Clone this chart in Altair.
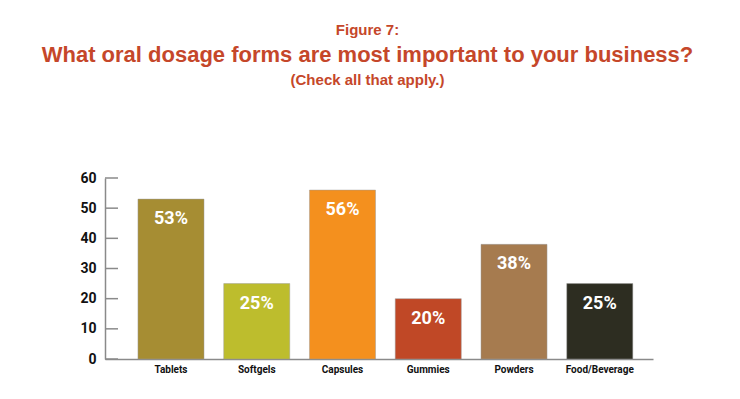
import altair as alt
import pandas as pd

categories = ["Tablets", "Softgels", "Capsules", "Gummies", "Powders", "Food/Beverage"]
values = [53, 25, 56, 20, 38, 25]
labels = ["53%", "25%", "56%", "20%", "38%", "25%"]
colors = ["#A68D33", "#BDBD2D", "#F4901E", "#C04826", "#A67B4F", "#2D2D21"]
y_ticks = [0, 10, 20, 30, 40, 50, 60]

fig_label = "Figure 7:"
title_text = "What oral dosage forms are most important to your business?"
subtitle_text = "(Check all that apply.)"
title_color = "#C5472A"

W, H = 548, 181

df = pd.DataFrame({"cat": categories, "val": values, "lab": labels})
ticks_df = pd.DataFrame({"v": y_ticks})

xscale = alt.Scale(domain=categories, paddingInner=0.23, paddingOuter=0.31, align=0.62)
yscale = alt.Scale(domain=[0, 60])

bars = alt.Chart(df).mark_bar(stroke="#999999", strokeWidth=0.8, strokeOpacity=0.6).encode(
    x=alt.X("cat:N", scale=xscale, sort=categories, title=None),
    y=alt.Y("val:Q", scale=yscale, title=None),
    color=alt.Color("cat:N", scale=alt.Scale(domain=categories, range=colors), legend=None),
)

text = alt.Chart(df).mark_text(color="white", font="Roboto", fontWeight="bold", fontSize=18,
                               baseline="alphabetic", dy=25).encode(
    x=alt.X("cat:N", scale=xscale, sort=categories, title=None),
    y=alt.Y("val:Q", scale=yscale, title=None),
    text="lab:N",
)

tick_rules = alt.Chart(ticks_df).mark_rule(color="#8a8a8a", strokeWidth=1.5).encode(
    y=alt.Y("v:Q", scale=yscale, title=None),
    x=alt.value(0),
    x2=alt.value(13),
)

def title_mark(t, size, ypos):
    return alt.Chart(pd.DataFrame({"t": [t]})).mark_text(
        font="Liberation Sans", fontWeight="bold", fontSize=size, color=title_color,
        align="center", baseline="alphabetic").encode(
        text="t:N", x=alt.value(262.5), y=alt.value(ypos))

chart = alt.layer(
    bars, text, tick_rules,
    title_mark(fig_label, 15, -143),
    title_mark(title_text, 22, -116),
    title_mark(subtitle_text, 15, -93),
).properties(
    width=W, height=H,
    autosize=alt.AutoSizeParams(type="none"),
    padding={"left": 97, "top": 170, "right": 79, "bottom": 30},
).configure(background="white").configure_view(strokeWidth=0).configure_axisX(
    labelAngle=0, ticks=False, labelPadding=5, grid=False,
    labelFont="Roboto", labelFontWeight="bold", labelFontSize=10,
    labelColor="#111111", domainColor="#8a8a8a", domainWidth=1.5,
).configure_axisY(
    tickCount=7, ticks=False, grid=False, labelPadding=9,
    labelOverlap=False, labelFlush=False,
    labelFont="Roboto", labelFontWeight="bold", labelFontSize=14,
    labelColor="#111111", domainColor="#8a8a8a", domainWidth=1.5,
)

chart.save("out.html", embed_options={"renderer": "svg", "actions": False})
